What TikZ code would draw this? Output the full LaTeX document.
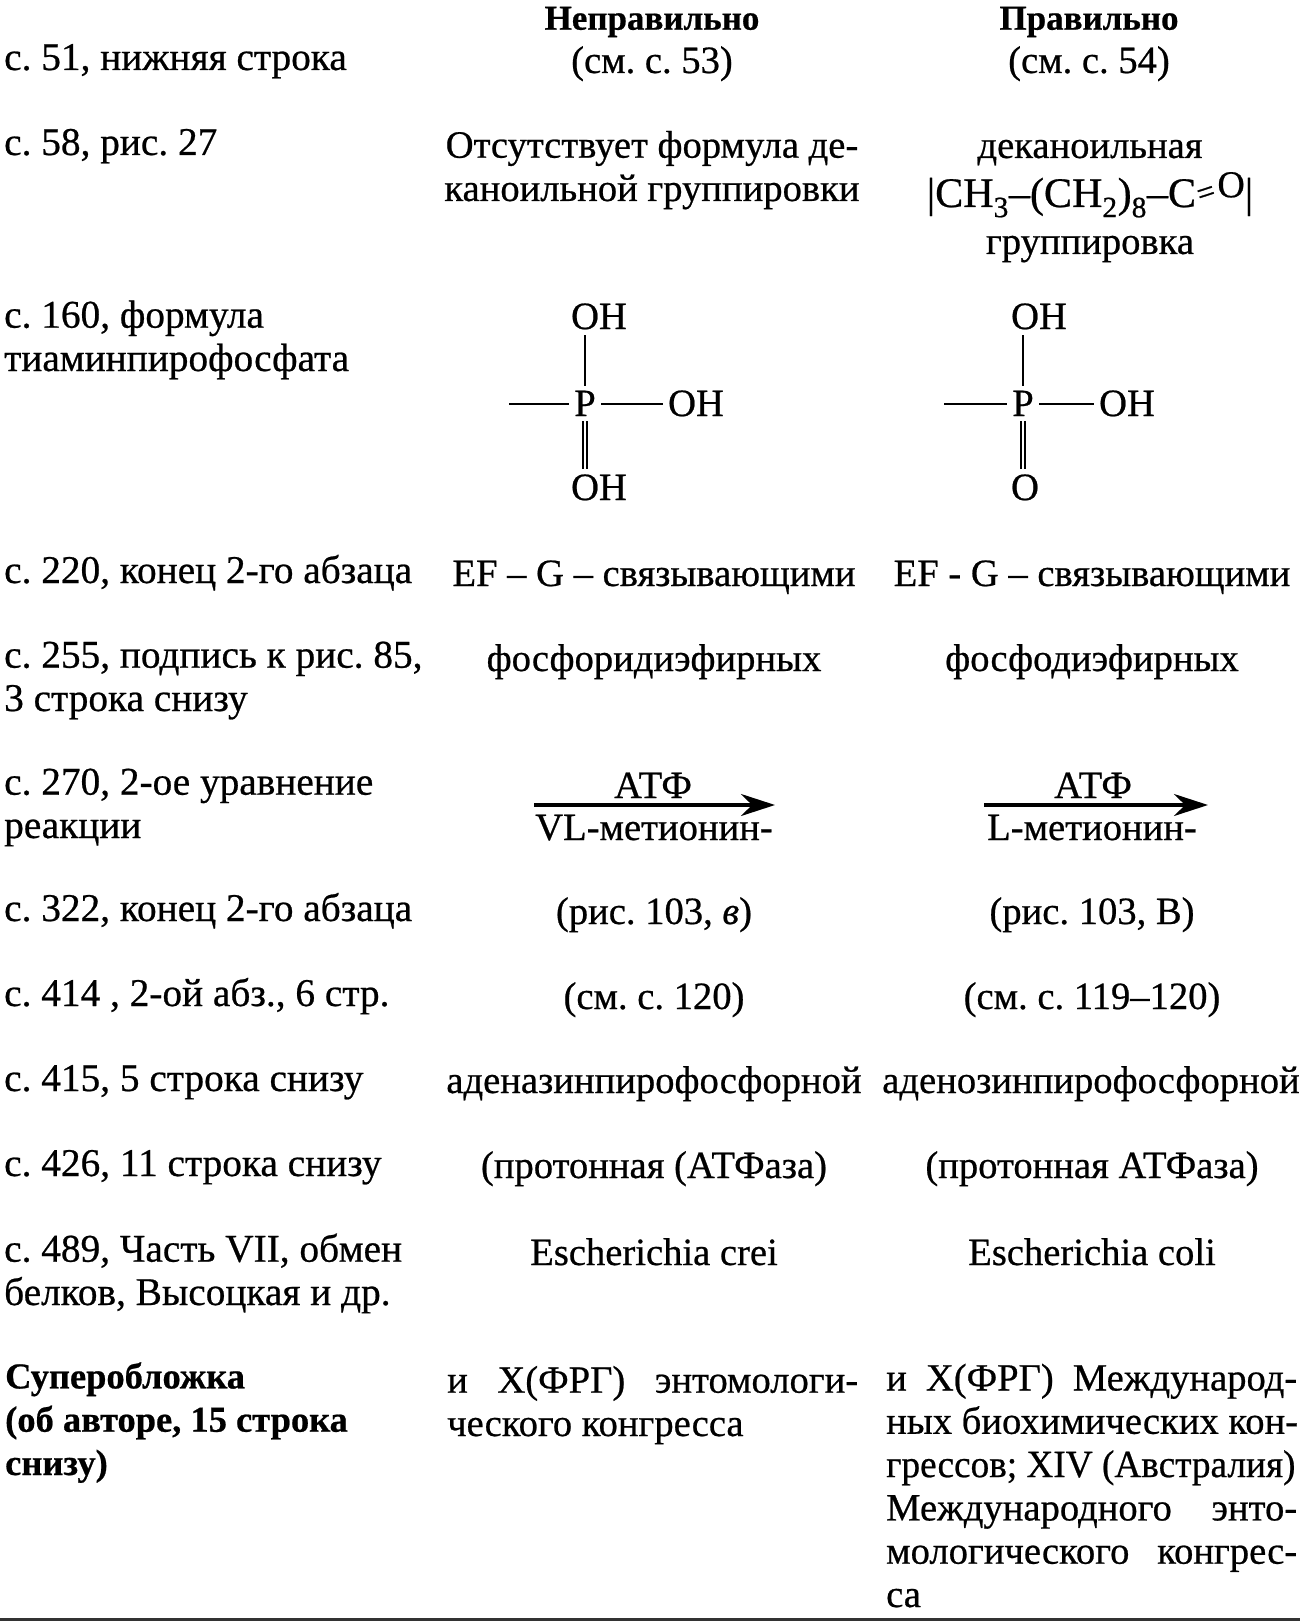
\documentclass[tikz,border=0pt]{standalone}
\usepackage{fontspec}
\usepackage{graphicx}
\setmainfont[RawFeature={embolden=0.6}]{Liberation Serif}
\usetikzlibrary{arrows.meta}
\newcommand{\wideline}[1]{\makebox[411pt][s]{#1}}
\newcommand{\headBold}[1]{\textbf{\fontsize{35}{43.3}\selectfont #1}}
\newcommand{\sideBold}[1]{\textbf{\fontsize{36.5}{43.3}\selectfont #1}}
\frenchspacing
\begin{document}
\begin{tikzpicture}[x=1pt,y=-1pt]

          \tikzstyle{textFont} = [font=\fontsize{38.6}{43.3}\selectfont, inner sep=0pt];
          \tikzstyle{sideFont} = [font=\fontsize{39.3}{43.3}\selectfont, inner sep=0pt];
          \tikzstyle{rowNode} = [sideFont, anchor=base west, align=left];
          \tikzstyle{paraNode} = [textFont, anchor=base west, align=left];
          \tikzstyle{colNode} = [textFont, anchor=base, align=center];
          \tikzstyle{chemNode} = [textFont, inner sep=5pt, anchor=base];

          \tikzstyle{bondEdge} = [line width=2.6pt];
          \tikzstyle{doubleEdge} = [line width=1.6pt, double, double distance=2.6pt];
          \tikzstyle{reactionEdge} = [line width=3.2pt, -{Stealth[length=34pt,width=22pt]}];
          \tikzstyle{ruleEdge} = [line width=3pt, black!80];

          \useasboundingbox (0,0) rectangle (1300,1621);

          % left column
          \node[rowNode] (pageA) at (4,70) {с. 51, нижняя строка};
          \node[rowNode] (pageB) at (4,155) {с. 58, рис. 27};
          \node[rowNode] (pageC) at (4,371) {с. 160, формула\\тиаминпирофосфата};
          \node[rowNode] (pageD) at (4,583) {с. 220, конец 2-го абзаца};
          \node[rowNode] (pageE) at (4,711) {с. 255, подпись к рис. 85,\\3 строка снизу};
          \node[rowNode] (pageF) at (4,838) {с. 270, 2-ое уравнение\\реакции};
          \node[rowNode] (pageG) at (4,921) {с. 322, конец 2-го абзаца};
          \node[rowNode] (pageH) at (4,1006) {с. 414 , 2-ой абз., 6 стр.};
          \node[rowNode] (pageI) at (4,1091) {с. 415, 5 строка снизу};
          \node[rowNode] (pageJ) at (4,1176) {с. 426, 11 строка снизу};
          \node[rowNode] (pageK) at (4,1305) {с. 489, Часть VII, обмен\\белков, Высоцкая и др.};
          \node[rowNode] (pageL) at (5,1475) {\sideBold{Суперобложка}\\\sideBold{(об авторе, 15 строка}\\\sideBold{снизу)}};

          % wrong column
          \node[colNode] (wrongHead) at (652,73) {\headBold{Неправильно}\\(см. с. 53)};
          \node[colNode] (wrongB) at (652,201) {Отсутствует формула де-\\каноильной группировки};
          \node[colNode] (wrongD) at (654,586) {EF – G – связывающими};
          \node[colNode] (wrongE) at (654,671) {фосфоридиэфирных};
          \node[colNode] (wrongATP) at (653,798) {АТФ};
          \node[colNode] (wrongF) at (654,840) {VL-метионин-};
          \node[colNode] (wrongG) at (654,924) {(рис. 103, \textit{в})};
          \node[colNode] (wrongH) at (654,1009) {(см. с. 120)};
          \node[colNode] (wrongI) at (654,1093) {аденазинпирофосфорной};
          \node[colNode] (wrongJ) at (654,1178) {(протонная (АТФаза)};
          \node[colNode] (wrongK) at (654,1265) {Escherichia crei};
          \node[paraNode] (wrongL) at (447,1436) {\wideline{и Х(ФРГ) энтомологи-}\\ческого конгресса};

          % right column
          \node[colNode] (rightHead) at (1089,73) {\headBold{Правильно}\\(см. с. 54)};
          \node[colNode] (rightB) at (1090,158) {деканоильная};
          \node[colNode] (rightFormula) at (1090,207) {\scalebox{1.09}{|CH\textsubscript{3}–(CH\textsubscript{2})\textsubscript{8}–C\raisebox{2pt}{\rotatebox{18}{\scalebox{.75}{=}}}\raisebox{9pt}{\scalebox{.9}{O}}|}};
          \node[colNode] (rightBb) at (1090,254) {группировка};
          \node[colNode] (rightD) at (1092,586) {EF - G – связывающими};
          \node[colNode] (rightE) at (1092,671) {фосфодиэфирных};
          \node[colNode] (rightATP) at (1093,798) {АТФ};
          \node[colNode] (rightF) at (1092,840) {L-метионин-};
          \node[colNode] (rightG) at (1092,924) {(рис. 103, В)};
          \node[colNode] (rightH) at (1092,1009) {(см. с. 119–120)};
          \node[colNode] (rightI) at (1091,1093) {аденозинпирофосфорной};
          \node[colNode] (rightJ) at (1092,1178) {(протонная АТФаза)};
          \node[colNode] (rightK) at (1092,1265) {Escherichia coli};
          \node[paraNode] (rightL) at (886,1607) {\wideline{и Х(ФРГ) Международ-}\\ных биохимических кон-\\\scalebox{.965}[1]{грессов; XIV (Австралия)}\\\wideline{Международного энто-}\\\wideline{мологического конгрес-}\\са};

          % wrong formula
          \node[chemNode] (wrongP) at (585,416) {P};
          \node[chemNode] (wrongTop) at (599,329) {OH};
          \node[chemNode] (wrongSide) at (696,416) {OH};
          \node[chemNode] (wrongBottom) at (599,500) {OH};
          \coordinate (wrongStub) at (509,404);
          \draw[bondEdge] (wrongP) -- (wrongP |- wrongTop.south);
          \draw[bondEdge] (wrongStub) -- (wrongStub -| wrongP.west);
          \draw[bondEdge] (wrongSide.west |- wrongStub) -- (wrongP.east |- wrongStub);
          \draw[doubleEdge] (wrongP) -- (wrongP |- wrongBottom.north);

          % right formula
          \node[chemNode] (rightP) at (1023,416) {P};
          \node[chemNode] (rightTop) at (1039,329) {OH};
          \node[chemNode] (rightSide) at (1127,416) {OH};
          \node[chemNode] (rightBottom) at (1025,500) {O};
          \coordinate (rightStub) at (944,404);
          \draw[bondEdge] (rightP) -- (rightP |- rightTop.south);
          \draw[bondEdge] (rightStub) -- (rightStub -| rightP.west);
          \draw[bondEdge] (rightSide.west |- rightStub) -- (rightP.east |- rightStub);
          \draw[doubleEdge] (rightP) -- (rightP |- rightBottom.north);

          % reaction arrows
          \coordinate (wrongFrom) at (534,805);
          \coordinate (wrongTo) at (775,805);
          \coordinate (rightFrom) at (984,805);
          \coordinate (rightTo) at (1208,805);
          \draw[reactionEdge] (wrongFrom) -- (wrongTo);
          \draw[reactionEdge] (rightFrom) -- (rightTo);

          % bottom rule
          \coordinate (ruleFrom) at (0,1619);
          \coordinate (ruleTo) at (1300,1619);
          \draw[ruleEdge] (ruleFrom) -- (ruleTo);
        \end{tikzpicture}
\end{document}
